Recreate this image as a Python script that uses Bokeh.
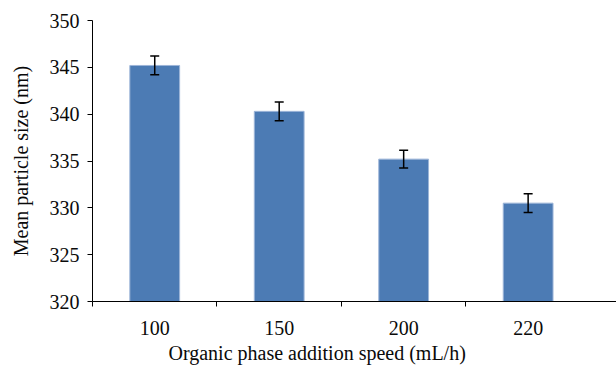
from bokeh.plotting import figure
from bokeh.models import FixedTicker, Whisker, ColumnDataSource, Range1d, Title
from bokeh.embed import file_html
from bokeh.resources import INLINE

categories = ["100", "150", "200", "220"]
mean_size = [345.2, 340.3, 335.2, 330.5]
error = [1.0, 1.0, 0.95, 1.0]
y_ticks = [320, 325, 330, 335, 340, 345, 350]
x_title = "Organic phase addition speed (mL/h)"
y_title = "Mean particle size (nm)"

FONT = "Liberation Serif"

xs = [i + 0.5 for i in range(len(categories))]
src = ColumnDataSource(dict(
    x=xs, top=mean_size,
    upper=[m + e for m, e in zip(mean_size, error)],
    lower=[m - e for m, e in zip(mean_size, error)],
))

p = figure(width=616, height=368, output_backend="svg", toolbar_location=None,
           x_range=Range1d(0, 4.21), y_range=Range1d(320, 350),
           min_border_left=92, min_border_right=0, min_border_top=20, min_border_bottom=67)
p.outline_line_color = None
p.xgrid.visible = False
p.ygrid.visible = False

p.vbar(x="x", top="top", bottom=320, width=0.4, source=src,
       fill_color="#4C7BB4", line_color="#9DB5D8", line_width=1)

w = Whisker(source=src, base="x", upper="upper", lower="lower",
            line_color="black", line_width=1.5, level="overlay")
w.upper_head.size = 9
w.lower_head.size = 9
w.upper_head.line_color = "black"
w.lower_head.line_color = "black"
w.upper_head.line_width = 1.5
w.lower_head.line_width = 1.5
p.add_layout(w)

p.xaxis.ticker = FixedTicker(ticks=xs, minor_ticks=[0, 1, 2, 3])
p.xaxis.major_label_overrides = {x: c for x, c in zip(xs, categories)}
p.xaxis.major_tick_line_color = None
p.xaxis.minor_tick_line_color = "black"
p.xaxis.minor_tick_out = 5
p.xaxis.minor_tick_in = 0

p.yaxis.ticker = FixedTicker(ticks=y_ticks)
p.yaxis.minor_tick_line_color = None
p.yaxis.major_tick_out = 5
p.yaxis.major_tick_in = 0
p.yaxis.axis_label = y_title

for ax in (p.xaxis[0], p.yaxis[0]):
    ax.axis_line_color = "black"
    ax.axis_line_width = 1
    ax.major_label_text_font = FONT
    ax.major_label_text_font_size = "20px"
    ax.major_label_text_color = "#0a0a0a"
    ax.axis_label_text_font = FONT
    ax.axis_label_text_font_size = "20px"
    ax.axis_label_text_font_style = "normal"
    ax.axis_label_text_color = "#0a0a0a"
p.xaxis.major_label_standoff = 13
p.yaxis.major_label_standoff = 8
p.yaxis.axis_label_standoff = 15

# x-axis title centred on the whole chart width, as in the original
xt = Title(text=x_title, align="left", offset=76, text_font=FONT,
           text_font_size="20px", text_font_style="normal",
           text_color="#0a0a0a", standoff=4)
p.add_layout(xt, "below")

open("out.html", "w").write(file_html(p, INLINE))
